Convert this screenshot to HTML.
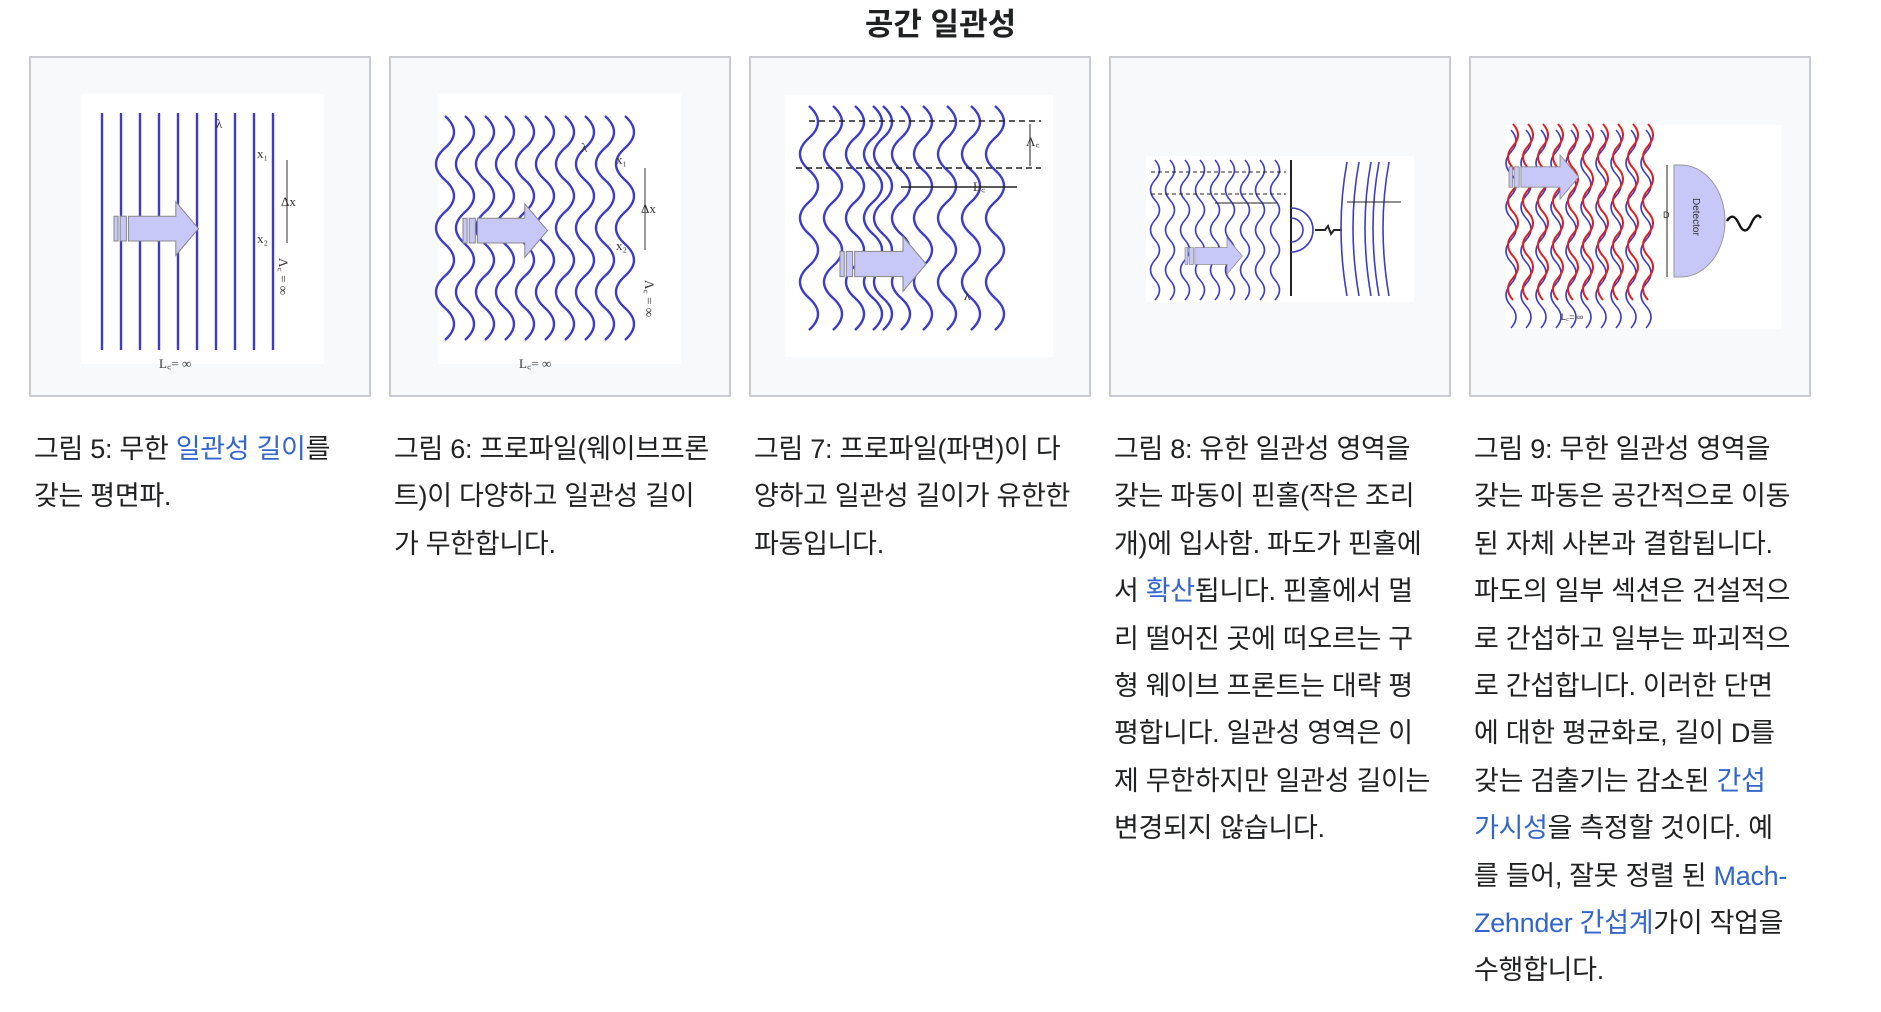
<!DOCTYPE html>
<html><head><meta charset="utf-8"><style>
body{margin:0;width:1881px;height:1012px;background:#fff;position:relative;overflow:hidden;font-family:"Liberation Sans","Noto Sans CJK KR",sans-serif;color:#202122}
.t{position:absolute;left:0;width:1881px;top:-1px;text-align:center;font-weight:bold;font-size:31px;font-family:"Liberation Sans","Noto Sans CJK KR",sans-serif}
.box{position:absolute;top:56px;width:338px;height:337px;background:#f8f9fa;border:2px solid #c8ccd1}
.box svg{position:absolute;left:0;top:0}
.cap{position:absolute;top:426px;width:345px;font-size:27px;line-height:47.4px;white-space:nowrap;letter-spacing:-0.3px}
a{color:#3366cc;text-decoration:none}
</style></head><body>
<div class="t">공간 일관성</div>
<svg width="0" height="0" style="position:absolute"><defs>
<path id="w" d="M0 0 q18 16 0 32 t0 32 t0 32 t0 32 t0 32 t0 32 t0 32" fill="none" stroke="#3c3cc8" stroke-width="2.4"/>
<path id="ws" d="M0 0 q9 10 0 20 t0 20 t0 20 t0 20 t0 20 t0 20 t0 20" fill="none" stroke="#3c3cc8" stroke-width="1.6"/>
<path id="wr" d="M0 0 q10 11 0 22 t0 22 t0 22 t0 22 t0 22 t0 22 t0 22 t0 22" fill="none" stroke="#e02020" stroke-width="2"/>
<path id="wb" d="M0 0 q10 11 0 22 t0 22 t0 22 t0 22 t0 22 t0 22 t0 22 t0 22 t0 22" fill="none" stroke="#3c3cc8" stroke-width="1.6"/>
<g id="arr"><rect x="0" y="8" width="4" height="24" fill="#c8c8f8" stroke="#888"/><rect x="6" y="8" width="6" height="24" fill="#c8c8f8" stroke="#888"/><path d="M14 8 H60 V-6 L82 20 L60 46 V32 H14 Z" fill="#c8c8f8" stroke="#888"/></g>
</defs></svg>

<!-- Fig 5 -->
<div class="box" style="left:29px">
<svg width="338" height="337"><rect x="50" y="36" width="243" height="270" fill="#fff"/>
<g stroke="#3c3cc8" stroke-width="2.4">
<line x1="71" y1="55" x2="71" y2="292"/><line x1="90" y1="55" x2="90" y2="292"/><line x1="109" y1="55" x2="109" y2="292"/><line x1="128" y1="55" x2="128" y2="292"/><line x1="147" y1="55" x2="147" y2="292"/><line x1="166" y1="55" x2="166" y2="292"/><line x1="185" y1="55" x2="185" y2="292"/><line x1="204" y1="55" x2="204" y2="292"/><line x1="223" y1="55" x2="223" y2="292"/><line x1="242" y1="55" x2="242" y2="292"/></g>
<use href="#arr" transform="translate(83,150) scale(1.03)"/>
<g font-family="Liberation Serif" font-size="13" fill="#333"><text x="185" y="70">λ</text><text x="226" y="100">x₁</text><text x="226" y="185">x₂</text><text x="250" y="148">Δx</text><text x="128" y="310">L꜀= ∞</text><text x="248" y="200" transform="rotate(90 248 200)">Λ꜀ = ∞</text></g>
<line x1="256" y1="102" x2="256" y2="185" stroke="#333"/></svg></div>

<!-- Fig 6 -->
<div class="box" style="left:389px">
<svg width="338" height="337"><rect x="47" y="36" width="243" height="270" fill="#fff"/>
<use href="#w" transform="translate(54,58)"/><use href="#w" transform="translate(74,58)"/><use href="#w" transform="translate(94,58)"/><use href="#w" transform="translate(114,58)"/><use href="#w" transform="translate(134,58)"/><use href="#w" transform="translate(154,58)"/><use href="#w" transform="translate(174,58)"/><use href="#w" transform="translate(194,58)"/><use href="#w" transform="translate(214,58)"/><use href="#w" transform="translate(234,58)"/>
<use href="#arr" transform="translate(72,152) scale(1.03)"/>
<g font-family="Liberation Serif" font-size="13" fill="#333"><text x="190" y="94">λ</text><text x="225" y="106">x₁</text><text x="225" y="192">x₂</text><text x="250" y="155">Δx</text><text x="128" y="310">L꜀= ∞</text><text x="254" y="222" transform="rotate(90 254 222)">Λ꜀ = ∞</text></g>
<line x1="254" y1="110" x2="254" y2="192" stroke="#333"/></svg></div>

<!-- Fig 7 -->
<div class="box" style="left:749px">
<svg width="338" height="337"><rect x="34" y="37" width="268" height="262" fill="#fff"/>
<use href="#w" transform="translate(58,48)"/><use href="#w" transform="translate(82,48)"/><use href="#w" transform="translate(104,48)"/><use href="#w" transform="translate(122,48)"/><use href="#w" transform="translate(132,48)"/><use href="#w" transform="translate(150,48)"/><use href="#w" transform="translate(172,48)"/><use href="#w" transform="translate(196,48)"/><use href="#w" transform="translate(220,48)"/><use href="#w" transform="translate(244,48)"/>
<g stroke="#222" stroke-width="1.5" stroke-dasharray="6 4"><line x1="58" y1="63" x2="290" y2="63"/><line x1="45" y1="110" x2="290" y2="110"/></g>
<line x1="150" y1="129" x2="266" y2="129" stroke="#222" stroke-width="1.5"/><line x1="279" y1="66" x2="279" y2="108" stroke="#222"/>
<use href="#arr" transform="translate(89,185) scale(1.05)"/>
<g font-family="Liberation Serif" font-size="13" fill="#333"><text x="222" y="133">L꜀</text><text x="275" y="88">Λ꜀</text><text x="213" y="242">λ</text></g></svg></div>

<!-- Fig 8 -->
<div class="box" style="left:1109px">
<svg width="338" height="337"><rect x="35" y="98" width="268" height="146" fill="#fff"/>
<use href="#ws" transform="translate(44,102)"/><use href="#ws" transform="translate(59,102)"/><use href="#ws" transform="translate(74,102)"/><use href="#ws" transform="translate(89,102)"/><use href="#ws" transform="translate(104,102)"/><use href="#ws" transform="translate(119,102)"/><use href="#ws" transform="translate(134,102)"/><use href="#ws" transform="translate(149,102)"/><use href="#ws" transform="translate(164,102)"/>
<line x1="180" y1="102" x2="180" y2="238" stroke="#222" stroke-width="2"/>
<path d="M180 150 a22 22 0 0 1 0 44 M180 160 a12 12 0 0 1 0 24" fill="none" stroke="#3c3cc8" stroke-width="1.6"/>
<path d="M204 172 h10 l3 -4 l3 8 l3 -4 h8" fill="none" stroke="#222" stroke-width="2"/>
<g fill="none" stroke="#3c3cc8" stroke-width="1.6"><path d="M236 104 q-12 65 0 134"/><path d="M248 104 q-12 65 0 134"/><path d="M260 104 q-12 65 0 134"/><path d="M268 104 q-12 65 0 134"/><path d="M278 104 q-12 65 0 134"/></g>
<g stroke="#222" stroke-dasharray="4 3"><line x1="40" y1="114" x2="175" y2="114"/><line x1="40" y1="136" x2="175" y2="136"/></g>
<line x1="104" y1="145" x2="166" y2="145" stroke="#222"/><line x1="236" y1="144" x2="290" y2="144" stroke="#222"/>
<use href="#arr" transform="translate(74,184) scale(0.7)"/></svg></div>

<!-- Fig 9 -->
<div class="box" style="left:1469px">
<svg width="338" height="337"><rect x="35" y="67" width="275" height="204" fill="#fff"/>
<use href="#wb" transform="translate(40,72)"/><use href="#wb" transform="translate(55,72)"/><use href="#wb" transform="translate(70,72)"/><use href="#wb" transform="translate(85,72)"/><use href="#wb" transform="translate(100,72)"/><use href="#wb" transform="translate(115,72)"/><use href="#wb" transform="translate(130,72)"/><use href="#wb" transform="translate(145,72)"/><use href="#wb" transform="translate(160,72)"/><use href="#wb" transform="translate(175,72)"/>
<use href="#wr" transform="translate(42,66)"/><use href="#wr" transform="translate(57,66)"/><use href="#wr" transform="translate(72,66)"/><use href="#wr" transform="translate(87,66)"/><use href="#wr" transform="translate(102,66)"/><use href="#wr" transform="translate(117,66)"/><use href="#wr" transform="translate(132,66)"/><use href="#wr" transform="translate(147,66)"/><use href="#wr" transform="translate(162,66)"/><use href="#wr" transform="translate(177,66)"/>
<use href="#arr" transform="translate(38,102) scale(0.85)"/>
<path d="M203 107 H210 A44 56 0 0 1 210 219 H203 Z" fill="#c8c8f8" stroke="#999"/>
<line x1="196" y1="107" x2="196" y2="219" stroke="#222"/>
<path d="M256 163 q6 -10 12 3 t12 0 t10 -6" fill="none" stroke="#111" stroke-width="2.4"/>
<text x="222" y="140" font-size="10" fill="#333" transform="rotate(90 222 140)">Detector</text>
<text x="192" y="160" font-size="9" fill="#333">D</text>
<text x="90" y="262" font-size="9" fill="#333">L꜀= ∞</text></svg></div>

<div class="cap" style="left:34px">그림 5: 무한 <a>일관성 길이</a>를<br>갖는 평면파.</div>
<div class="cap" style="left:394px">그림 6: 프로파일(웨이브프론<br>트)이 다양하고 일관성 길이<br>가 무한합니다.</div>
<div class="cap" style="left:754px">그림 7: 프로파일(파면)이 다<br>양하고 일관성 길이가 유한한<br>파동입니다.</div>
<div class="cap" style="left:1114px">그림 8: 유한 일관성 영역을<br>갖는 파동이 핀홀(작은 조리<br>개)에 입사함. 파도가 핀홀에<br>서 <a>확산</a>됩니다. 핀홀에서 멀<br>리 떨어진 곳에 떠오르는 구<br>형 웨이브 프론트는 대략 평<br>평합니다. 일관성 영역은 이<br>제 무한하지만 일관성 길이는<br>변경되지 않습니다.</div>
<div class="cap" style="left:1474px">그림 9: 무한 일관성 영역을<br>갖는 파동은 공간적으로 이동<br>된 자체 사본과 결합됩니다.<br>파도의 일부 섹션은 건설적으<br>로 간섭하고 일부는 파괴적으<br>로 간섭합니다. 이러한 단면<br>에 대한 평균화로, 길이 D를<br>갖는 검출기는 감소된 <a>간섭</a><br><a>가시성</a>을 측정할 것이다. 예<br>를 들어, 잘못 정렬 된 <a>Mach-</a><br><a>Zehnder 간섭계</a>가이 작업을<br>수행합니다.</div>
</body></html>
